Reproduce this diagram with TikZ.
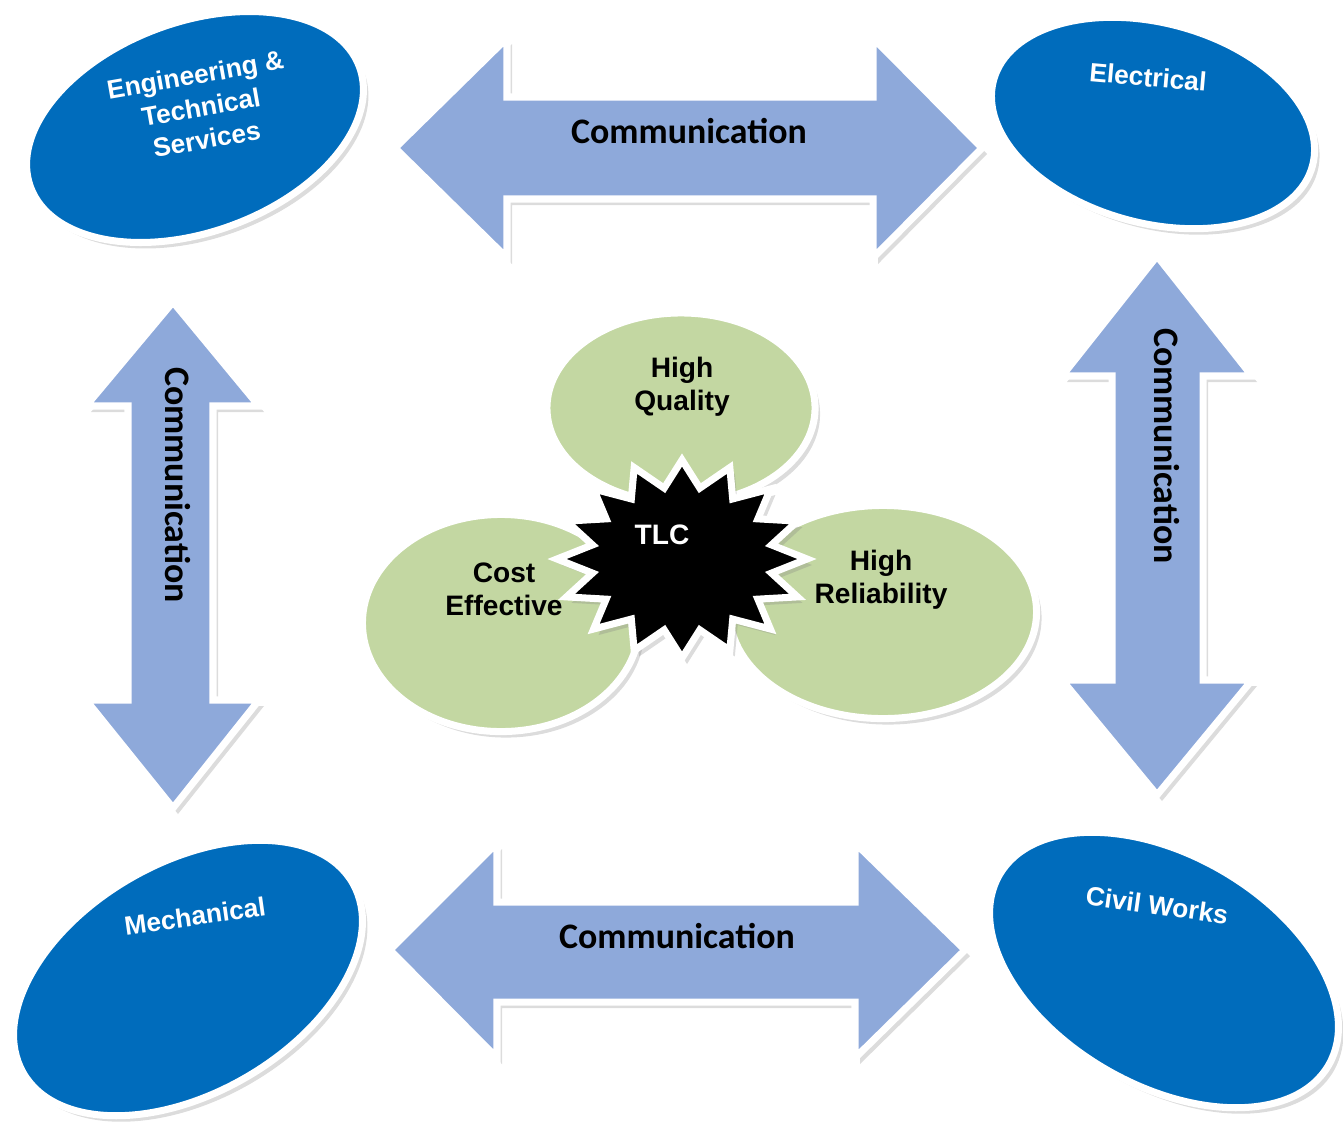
\documentclass[tikz,border=0pt]{standalone}
\usepackage{fontspec}
\setmainfont{Liberation Sans}
\newfontfamily\commfont{Carlito}
\usetikzlibrary{shapes.geometric,shadows}

\definecolor{unitblue}{RGB}{0,108,188}
\definecolor{arrowblue}{RGB}{142,169,218}
\definecolor{leafgreen}{RGB}{195,215,162}

\begin{document}
\begin{tikzpicture}[x = 0.01cm, y = -0.01cm, font = \bfseries,
        softshadow/.style = {drop shadow = {shadow xshift = 0.5mm, shadow yshift = -0.6mm, opacity = 0.28}},
        unit/.style = {ellipse, draw = white, line width = 2pt, fill = unitblue, inner sep = 0pt, softshadow},
        unitlabel/.style = {text = white, align = center, inner sep = 1pt, font = \bfseries\fontsize{7.5}{9.3}\selectfont},
        aim/.style = {ellipse, draw = white, line width = 2pt, fill = leafgreen, inner sep = 0pt, softshadow},
        aimlabel/.style = {align = center, font = \bfseries\fontsize{8}{9.4}\selectfont},
        commarrow/.style = {draw = white, line width = 2pt, fill = arrowblue, line join = miter, softshadow},
        commlabel/.style = {font = \commfont\bfseries\fontsize{10.2}{12}\selectfont}]
        \useasboundingbox (0,0) rectangle (1343,1121);

        % departments
        \node [unit, minimum width = 3.5cm, minimum height = 2.1cm, rotate = 20] (ets) at (195,127) {};
        \node [unit, minimum width = 3.3cm, minimum height = 2.0cm, rotate = -15] (elec) at (1153,123) {};
        \node [unit, minimum width = 3.8cm, minimum height = 2.3cm, rotate = 30] (mech) at (188,978) {};
        \node [unit, minimum width = 3.8cm, minimum height = 2.3cm, rotate = -30] (civil) at (1164,970) {};

        \node [unitlabel, rotate = 10] (etslabel) at (201,107) {Engineering \&\\Technical\\Services};
        \node [unitlabel, rotate = -5] (eleclabel) at (1148,77) {Electrical};
        \node [unitlabel, rotate = 8] (mechlabel) at (195,916) {Mechanical};
        \node [unitlabel, rotate = -8] (civillabel) at (1157,905) {Civil Works};

        % communication arrows
        \draw [commarrow] (395,148) -- (507,38) -- (507,97) -- (873,97) -- (873,38) -- (982,148)
            -- (873,258) -- (873,199) -- (507,199) -- (507,258) -- cycle;
        \draw [commarrow] (390,950) -- (497,843) -- (497,902) -- (855,902) -- (855,843) -- (965,950)
            -- (855,1058) -- (855,1002) -- (497,1002) -- (497,1058) -- cycle;
        \draw [commarrow] (173,302) -- (259,406) -- (213,406) -- (213,700) -- (259,700) -- (173,808)
            -- (86,700) -- (128,700) -- (128,406) -- (86,406) -- cycle;
        \draw [commarrow] (1157,256) -- (1252,376) -- (1203,376) -- (1203,680) -- (1252,680) -- (1157,795)
            -- (1062,680) -- (1112,680) -- (1112,376) -- (1062,376) -- cycle;

        \node [commlabel] (topcomm) at (689,131) {Communication};
        \node [commlabel] (botcomm) at (677,936) {Communication};
        \node [commlabel, rotate = -90] (leftcomm) at (178,485) {Communication};
        \node [commlabel, rotate = -90] (rightcomm) at (1167,446) {Communication};

        % aims round the star
        \node [aim, minimum width = 2.68cm, minimum height = 1.9cm] (quality) at (681,408) {};
        \node [aim, minimum width = 2.77cm, minimum height = 2.17cm] (cost) at (501,623) {};
        \node [aim, minimum width = 3.07cm, minimum height = 2.13cm] (reliab) at (883,612) {};

        \node [aimlabel] (qualitylabel) at (682,387) {High\\Quality};
        \node [aimlabel] (costlabel) at (504,589) {Cost\\Effective};
        \node [aimlabel] (reliablabel) at (881,580) {High\\Reliability};

        \draw [draw = white, line width = 2pt, fill = black, line join = miter, softshadow]
            plot [samples at = {0,...,31}, variable = \k]
            ({682+125*(1-0.27*isodd(\k))*sin(\k*11.25)}, {559-99*(1-0.27*isodd(\k))*cos(\k*11.25)}) -- cycle;
        \node [aimlabel, text = white] (tlc) at (662,535) {TLC};
    \end{tikzpicture}
\end{document}
